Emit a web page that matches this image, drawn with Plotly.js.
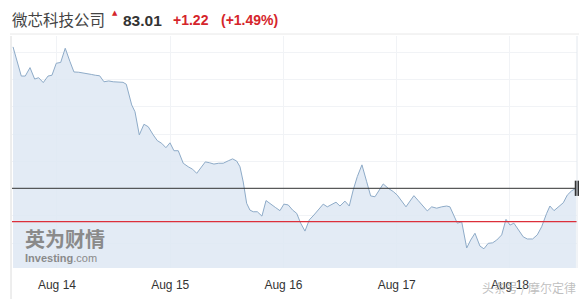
<!DOCTYPE html>
<html>
<head>
<meta charset="utf-8">
<script src="https://cdn.plot.ly/plotly-3.0.1.min.js"></script>
<style>html,body{margin:0;padding:0;background:#fff;}#chart{width:579px;height:299px;}</style>
</head>
<body>
<div id="chart"></div>
<script>
// time in days of August (fractional), price in USD
const times = [13.612,13.649,13.685,13.720,13.762,13.803,13.838,13.879,13.921,13.956,13.994,14.033,14.073,14.115,14.150,14.192,14.230,14.268,14.303,14.338,14.377,14.415,14.457,14.497,14.539,14.583,14.612,14.660,14.689,14.727,14.768,14.806,14.850,14.886,14.925,14.962,14.998,15.033,15.071,15.115,15.159,15.198,15.234,15.272,15.310,15.345,15.386,15.428,15.468,15.513,15.551,15.587,15.616,15.645,15.675,15.704,15.733,15.769,15.810,15.846,15.887,15.928,15.969,16.004,16.042,16.081,16.117,16.152,16.190,16.228,16.269,16.307,16.351,16.387,16.426,16.464,16.499,16.543,16.581,16.616,16.652,16.693,16.735,16.770,16.808,16.846,16.881,16.925,16.970,17.005,17.044,17.082,17.117,17.152,17.190,17.229,17.270,17.309,17.353,17.397,17.441,17.470,17.506,17.535,17.574,17.618,17.653,17.691,17.735,17.770,17.808,17.847,17.883,17.927,17.965,18.000,18.035,18.073,18.117,18.153,18.200,18.241,18.280,18.324,18.353,18.389,18.427,18.471,18.506,18.545,18.583];
const prices = [88.20,87.66,87.13,87.13,87.44,87.02,87.07,86.89,87.13,87.16,87.60,87.63,88.15,87.66,87.28,87.27,87.25,87.21,87.19,87.16,87.14,86.92,86.95,86.92,86.90,86.90,86.83,86.07,85.82,84.97,85.36,85.27,84.97,84.76,84.66,84.50,84.68,84.39,84.39,83.93,83.80,83.71,83.56,83.77,83.98,83.95,83.90,83.93,83.93,84.02,84.09,84.01,83.80,83.24,82.46,82.21,82.15,82.15,81.99,82.56,82.42,82.31,82.19,82.43,82.40,82.21,82.09,81.73,81.44,81.85,82.03,82.21,82.43,82.33,82.43,82.50,82.36,82.54,82.36,82.95,83.44,83.87,83.25,82.73,82.70,82.95,83.17,83.01,82.89,82.76,82.56,82.33,82.54,82.74,82.56,82.36,82.18,82.33,82.28,82.33,82.36,82.33,81.99,81.73,81.78,80.82,81.11,81.36,80.89,80.79,80.99,81.01,81.11,81.30,81.87,81.66,81.73,81.51,81.23,81.15,81.15,81.30,81.60,82.09,82.36,82.19,82.31,82.48,82.76,82.92,83.01];
const tickDays = [14,15,16,17,18];
const tickLabels = ["Aug 14","Aug 15","Aug 16","Aug 17","Aug 18"];
const lastPrice = 83.01;
const prevClose = 81.79;
const change = "+1.22";
const changePct = "(+1.49%)";
const company = "微芯科技公司";

const W = 579, H = 299, mL = 12, mR = 2, mT = 36, mB = 31;
const pw = W - mL - mR, ph = H - mT - mB;
const px = x => (x - mL) / pw;
const py = y => (H - mB - y) / ph;
const xRange = [13.603, 18.592];

const trace = {
  x: times, y: prices, type: 'scatter', mode: 'lines',
  line: {color: '#8eabc8', width: 1},
  fill: 'tozeroy', fillcolor: 'rgba(222,232,243,0.85)',
  hoverinfo: 'skip'
};
const lastLine = {x: xRange, y: [lastPrice, lastPrice], type: 'scatter', mode: 'lines',
  line: {color: '#333333', width: 1}, hoverinfo: 'skip'};
const prevLine = {x: xRange, y: [prevClose, prevClose], type: 'scatter', mode: 'lines',
  line: {color: '#dc2f3a', width: 1.2}, hoverinfo: 'skip'};

const red = '#d5252b';
const layout = {
  width: W, height: H,
  margin: {l: mL, r: mR, t: mT, b: mB},
  paper_bgcolor: '#fff', plot_bgcolor: '#fff',
  showlegend: false,
  xaxis: {
    range: xRange, tickvals: tickDays, ticktext: tickLabels,
    showgrid: true, gridcolor: '#f1f3f6', zeroline: false, showline: false,
    ticks: 'outside', ticklen: 6, tickcolor: 'rgba(0,0,0,0)',
    tickfont: {family: 'Liberation Sans, Arial, sans-serif', size: 12, color: '#333'},
    fixedrange: true
  },
  yaxis: {
    range: [80.085, 88.60], dtick: 1, tick0: 80,
    showgrid: true, gridcolor: '#f1f3f6', zeroline: false, showline: false,
    showticklabels: false, ticks: '', fixedrange: true
  },
  shapes: [
    {type: 'rect', xref: 'paper', yref: 'y', x0: 0.996, x1: 1.004, y0: lastPrice - 0.28, y1: lastPrice + 0.28, fillcolor: '#333', line: {width: 0}},
    {type: 'line', xref: 'paper', yref: 'paper', x0: px(11), x1: px(11), y0: py(36), y1: py(299), line: {color: '#dcdcdc', width: 1}},
    {type: 'line', xref: 'paper', yref: 'paper', x0: px(577), x1: px(577), y0: py(36), y1: py(268), line: {color: '#e3e8ee', width: 1}},
    {type: 'line', xref: 'paper', yref: 'paper', x0: px(10), x1: px(579), y0: py(34), y1: py(34), line: {color: '#e8e8e8', width: 1}}
  ],
  annotations: [
    {xref: 'paper', yref: 'paper', x: px(10), y: py(19), xanchor: 'left', yanchor: 'middle', showarrow: false,
     text: company, font: {family: 'Noto Sans CJK SC, sans-serif', size: 15.5, color: '#444'}},
    {xref: 'paper', yref: 'paper', x: px(110), y: py(13), xanchor: 'left', yanchor: 'middle', showarrow: false,
     text: '▲', font: {family: 'DejaVu Sans, sans-serif', size: 7, color: red}},
    {xref: 'paper', yref: 'paper', x: px(121), y: py(20), xanchor: 'left', yanchor: 'middle', showarrow: false,
     text: '<b>' + lastPrice.toFixed(2) + '</b>', font: {family: 'Liberation Sans, Arial, sans-serif', size: 15.5, color: '#333'}},
    {xref: 'paper', yref: 'paper', x: px(171), y: py(20), xanchor: 'left', yanchor: 'middle', showarrow: false,
     text: '<b>' + change + '</b>', font: {family: 'Liberation Sans, Arial, sans-serif', size: 14, color: red}},
    {xref: 'paper', yref: 'paper', x: px(219), y: py(20), xanchor: 'left', yanchor: 'middle', showarrow: false,
     text: '<b>' + changePct + '</b>', font: {family: 'Liberation Sans, Arial, sans-serif', size: 14, color: red}},
    {xref: 'paper', yref: 'paper', x: px(23), y: py(238), xanchor: 'left', yanchor: 'middle', showarrow: false,
     text: '<b>英为财情</b>', font: {family: 'Noto Sans CJK SC, sans-serif', size: 20, color: '#8a8a8a'}},
    {xref: 'paper', yref: 'paper', x: px(23), y: py(258), xanchor: 'left', yanchor: 'middle', showarrow: false,
     text: '<b>Investing</b>.com', font: {family: 'Liberation Sans, Arial, sans-serif', size: 11, color: '#8a8a8a'}},
    {xref: 'paper', yref: 'paper', x: px(480), y: py(287), xanchor: 'left', yanchor: 'middle', showarrow: false,
     text: '头条号 / 摩尔定律', font: {family: 'Noto Sans CJK SC, sans-serif', size: 12, color: 'rgba(170,170,170,0.75)'}}
  ]
};

Plotly.newPlot('chart', [trace, lastLine, prevLine], layout, {staticPlot: true, displayModeBar: false});
</script>
</body>
</html>
